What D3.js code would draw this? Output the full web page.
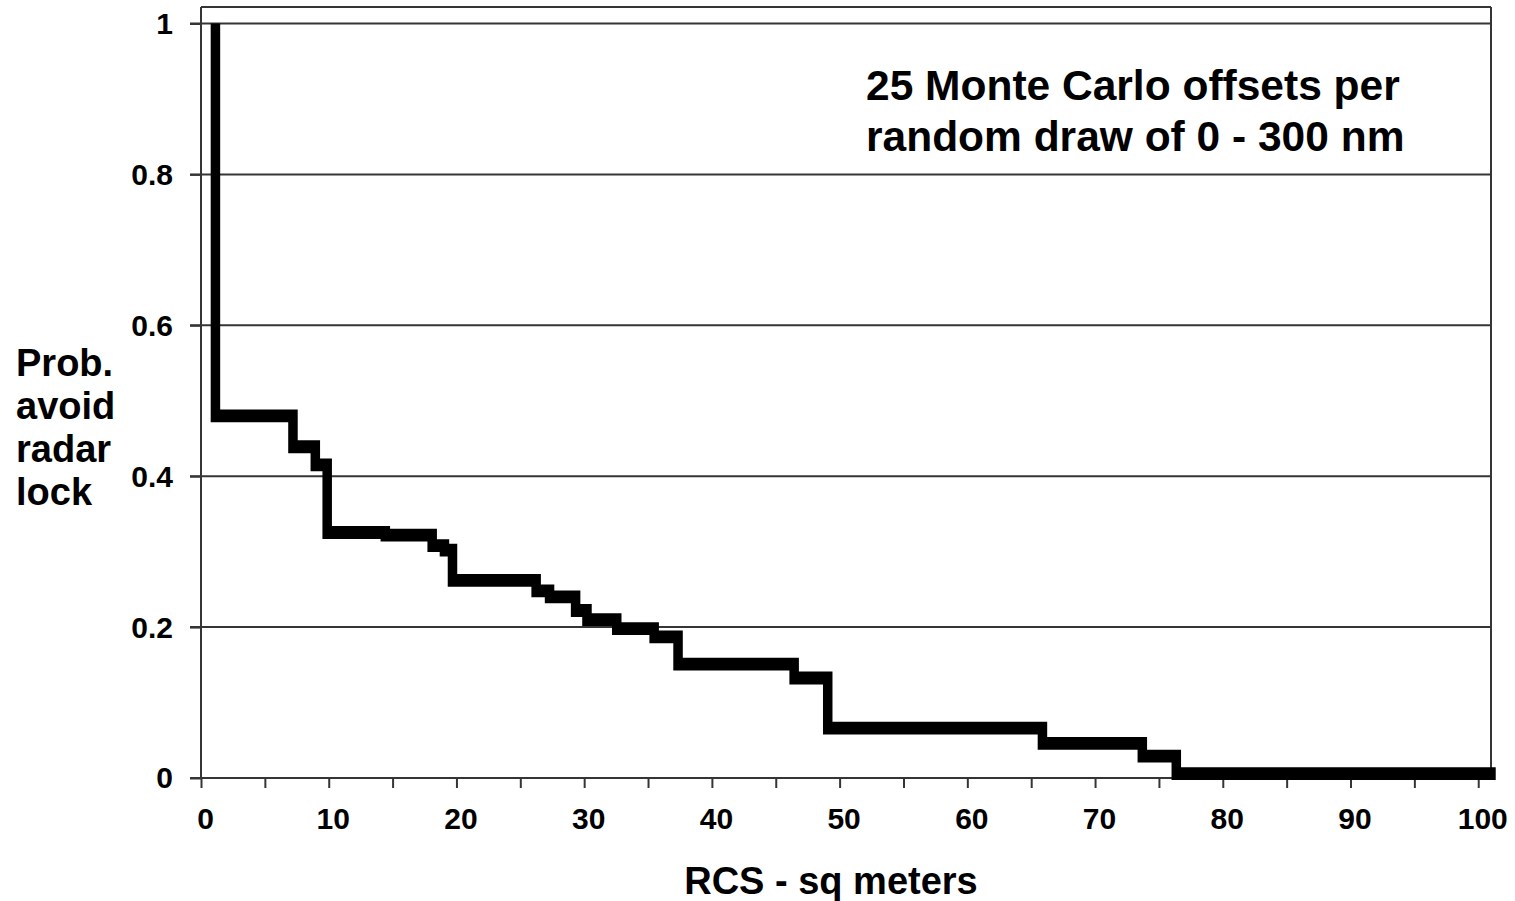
<!DOCTYPE html>
<html>
<head>
<meta charset="utf-8">
<script src="https://cdn.jsdelivr.net/npm/d3@7"></script>
<style>
  html, body { margin: 0; padding: 0; background: #fff; }
  svg { display: block; font-family: Arial, "Liberation Sans", Helvetica, sans-serif; }
</style>
</head>
<body>
<svg id="chart" width="1515" height="901"></svg>
<script>
// ---- data ----
const rcs  = [1.13, 1.13, 7.2, 8.95, 9.88, 14.43, 18.1, 19.06, 19.69, 26.24, 27.29, 29.33, 30.22, 32.55, 35.48, 37.35, 46.44, 49.07, 65.88, 73.7, 76.36, 101.37];
const prob = [1.0, 0.48, 0.439, 0.415, 0.3254, 0.322, 0.308, 0.302, 0.262, 0.248, 0.240, 0.222, 0.210, 0.198, 0.187, 0.151, 0.1325, 0.066, 0.046, 0.029, 0.0057, 0.0057];
const xTickValues = [0, 10, 20, 30, 40, 50, 60, 70, 80, 90, 100];
const xMinorTicks = d3.range(0, 101, 5);
const yTickValues = [0, 0.2, 0.4, 0.6, 0.8, 1];
const yTickLabels = ["0", "0.2", "0.4", "0.6", "0.8", "1"];
const yTitleLines = ["Prob.", "avoid", "radar", "lock"];
const xTitle = "RCS - sq meters";
const noteLines = ["25 Monte Carlo offsets per", "random draw of 0 - 300 nm"];

const svg = d3.select("#chart");
const x = d3.scaleLinear().domain([0, 101]).range([201, 1491]);
const y = d3.scaleLinear().domain([0, 1]).range([778, 23.5]);
const frameTop = y(1.022);
const gridColor = "#353535";

// gridlines (with outer tick stubs)
svg.append("g").selectAll("line").data(yTickValues.filter(v => v > 0)).join("line")
  .attr("x1", x(0) - 11).attr("x2", x.range()[1])
  .attr("y1", d => y(d)).attr("y2", d => y(d))
  .attr("stroke", gridColor).attr("stroke-width", 2);

// frame: top and right border
svg.append("line").attr("x1", x(0)).attr("x2", x.range()[1]).attr("y1", frameTop).attr("y2", frameTop)
  .attr("stroke", gridColor).attr("stroke-width", 2);
svg.append("line").attr("x1", x.range()[1]).attr("x2", x.range()[1]).attr("y1", frameTop).attr("y2", y(0))
  .attr("stroke", gridColor).attr("stroke-width", 2);

// y axis
const yAxis = d3.axisLeft(y).tickValues(yTickValues).tickSize(11).tickPadding(17)
  .tickFormat((d, i) => yTickLabels[i]);
const gy = svg.append("g").attr("transform", `translate(${x(0)},0)`).call(yAxis);
gy.select(".domain").attr("d", `M0,${frameTop}V${y(0)}`).attr("stroke", gridColor).attr("stroke-width", 2);
gy.selectAll(".tick line").attr("stroke", gridColor).attr("stroke-width", 2);
gy.selectAll(".tick text").attr("font-size", 30).attr("font-weight", "bold").attr("fill", "#000")
  .attr("font-family", "Arial, 'Liberation Sans', sans-serif").attr("dy", "0.33em").attr("dx", 0);

// x axis
const xAxis = d3.axisBottom(x).tickValues(xMinorTicks).tickSize(10).tickPadding(20)
  .tickFormat(d => xTickValues.includes(d) ? String(d) : "");
const gx = svg.append("g").attr("transform", `translate(0,${y(0)})`).call(xAxis);
gx.select(".domain").attr("d", `M${x(0) - 11},0H${x.range()[1]}`).attr("stroke", gridColor).attr("stroke-width", 2);
gx.selectAll(".tick line").attr("stroke", gridColor).attr("stroke-width", 2);
gx.selectAll(".tick text").attr("font-size", 30).attr("font-weight", "bold").attr("fill", "#000")
  .attr("font-family", "Arial, 'Liberation Sans', sans-serif").attr("dx", 4);

// step line (thicker horizontally-running strokes, like the stretched original)
const k = 1.35;
const pts = rcs.map((r, i) => ({ r, p: prob[i] }));
const line = d3.line().x(d => x(d.r)).y(d => y(d.p) / k).curve(d3.curveStepAfter);
svg.append("g").attr("transform", `scale(1,${k})`)
  .append("path").datum(pts).attr("d", line)
  .attr("fill", "none").attr("stroke", "#000").attr("stroke-width", 9.5)
  .attr("stroke-linecap", "butt").attr("stroke-linejoin", "miter");

// y title
svg.append("text").attr("x", 16).attr("y", 362).attr("font-size", 38).attr("font-weight", "bold")
  .attr("fill", "#000")
  .selectAll("tspan").data(yTitleLines).join("tspan")
  .attr("x", 16).attr("dy", (d, i) => i === 0 ? "0.36em" : 43).text(d => d);

// x title
svg.append("text").attr("x", 831).attr("y", 880).attr("dy", "0.36em").attr("text-anchor", "middle")
  .attr("font-size", 38).attr("font-weight", "bold").attr("fill", "#000").text(xTitle);

// annotation
svg.append("text").attr("font-size", 42.5).attr("font-weight", "bold").attr("fill", "#000")
  .selectAll("tspan").data(noteLines).join("tspan")
  .attr("x", 866).attr("y", (d, i) => 85 + i * 51).attr("dy", "0.35em").text(d => d);
</script>
</body>
</html>
